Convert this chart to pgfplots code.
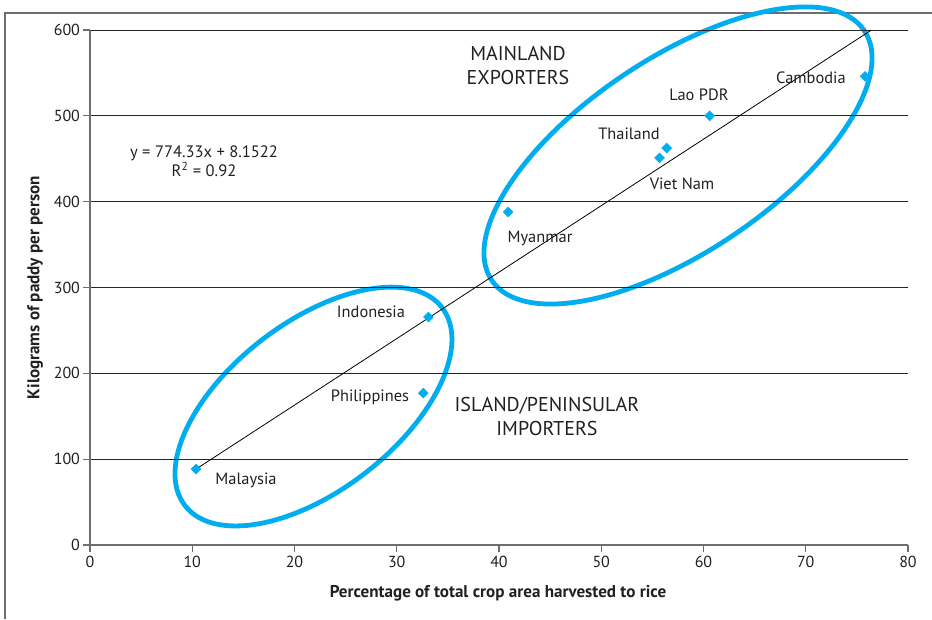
\documentclass[border=0pt]{standalone}
\usepackage{fontspec}
\setmainfont{PT Sans}
\usepackage{pgfplots}
\pgfplotsset{compat=1.18}

\definecolor{rice}{HTML}{00AEEF}
\definecolor{ink}{HTML}{231F20}
\definecolor{axisgray}{HTML}{6D6E71}

\begin{document}
\begin{tikzpicture}[font=\fontsize{12.3}{14}\selectfont, text=ink]
	% page is 932 x 619 px, 1 px = 0.75pt
	\path[use as bounding box] (0,0) rectangle (699pt,-464.25pt);
	% outer frame (cropped)
	\draw[axisgray, line width=1pt] (3.75pt,-464.25pt) |- (699pt,-9.75pt);

	% group ellipses
	\draw[rice, line width=3.6pt, rotate around={33.8:(508.5pt,-116.6pt)}]
		(508.5pt,-116.6pt) ellipse [x radius=168.2pt, y radius=72.8pt];
	\draw[rice, line width=3.6pt, rotate around={37.6:(235.1pt,-304.9pt)}]
		(235.1pt,-304.9pt) ellipse [x radius=121.7pt, y radius=63.2pt];

	\begin{axis}[
		scale only axis, width=613.5pt, height=386.25pt,
		at={(67.5pt,-408.75pt)}, anchor=south west,
		xmin=0, xmax=80, ymin=0, ymax=600,
		xtick distance=10, ytick distance=100,
		axis x line=bottom, axis y line=left,
		axis line style={axisgray, line width=0.9pt, -},
		tick style={axisgray, line width=0.9pt},
		tick align=outside, major tick length=5pt,
		ymajorgrids, grid style={black!85, line width=0.6pt},
		ticklabel style={font=\fontsize{12}{14}\selectfont, text=ink},
		yticklabel style={xshift=1pt},
		/pgf/number format/assume math mode=true,
		clip=false,
	]
		\addplot[black, line width=0.6pt, no marks] coordinates {(10.37,88.45) (76.4,599.8)};

		\addplot[only marks, mark=square*, mark size=2.6pt, color=rice, mark options={rotate=45}]
		coordinates{
		(10.37, 88.5)
		(32.6, 177)
		(33.1, 265.6)
		(40.9, 388)
		(55.7, 451)
		(56.4, 462.5)
		(60.6, 500)
		(75.8, 546)
		};

		\node[align=center, font=\fontsize{15}{18}\selectfont] at (axis cs:41.86,558.1) {MAINLAND\\EXPORTERS};
		\node[align=center, font=\fontsize{15}{18}\selectfont] at (axis cs:44.69,150.3) {ISLAND/PENINSULAR\\IMPORTERS};
		\node at (axis cs:59.56,524.3) {Lao PDR};
		\node at (axis cs:70.51,544.1) {Cambodia};
		\node at (axis cs:52.71,478.8) {Thailand};
		\node at (axis cs:57.90,420.6) {Viet Nam};
		\node at (axis cs:44.01,357.7) {Myanmar};
		\node at (axis cs:27.48,271.5) {Indonesia};
		\node at (axis cs:27.38,172.4) {Philippines};
		\node at (axis cs:15.26,75.7) {Malaysia};
		\node[align=center, font=\fontsize{12.4}{14.5}\selectfont] at (axis cs:11.15,447.4) {y = 774.33x + 8.1522\\R\textsuperscript{2} = 0.92};
	\end{axis}

	\node[font=\bfseries\fontsize{12.8}{14}\selectfont] at (373.5pt,-444.75pt) {Percentage of total crop area harvested to rice};
	\node[rotate=90, font=\bfseries\fontsize{12.8}{14}\selectfont] at (26.25pt,-215.6pt) {Kilograms of paddy per person};
\end{tikzpicture}
\end{document}
